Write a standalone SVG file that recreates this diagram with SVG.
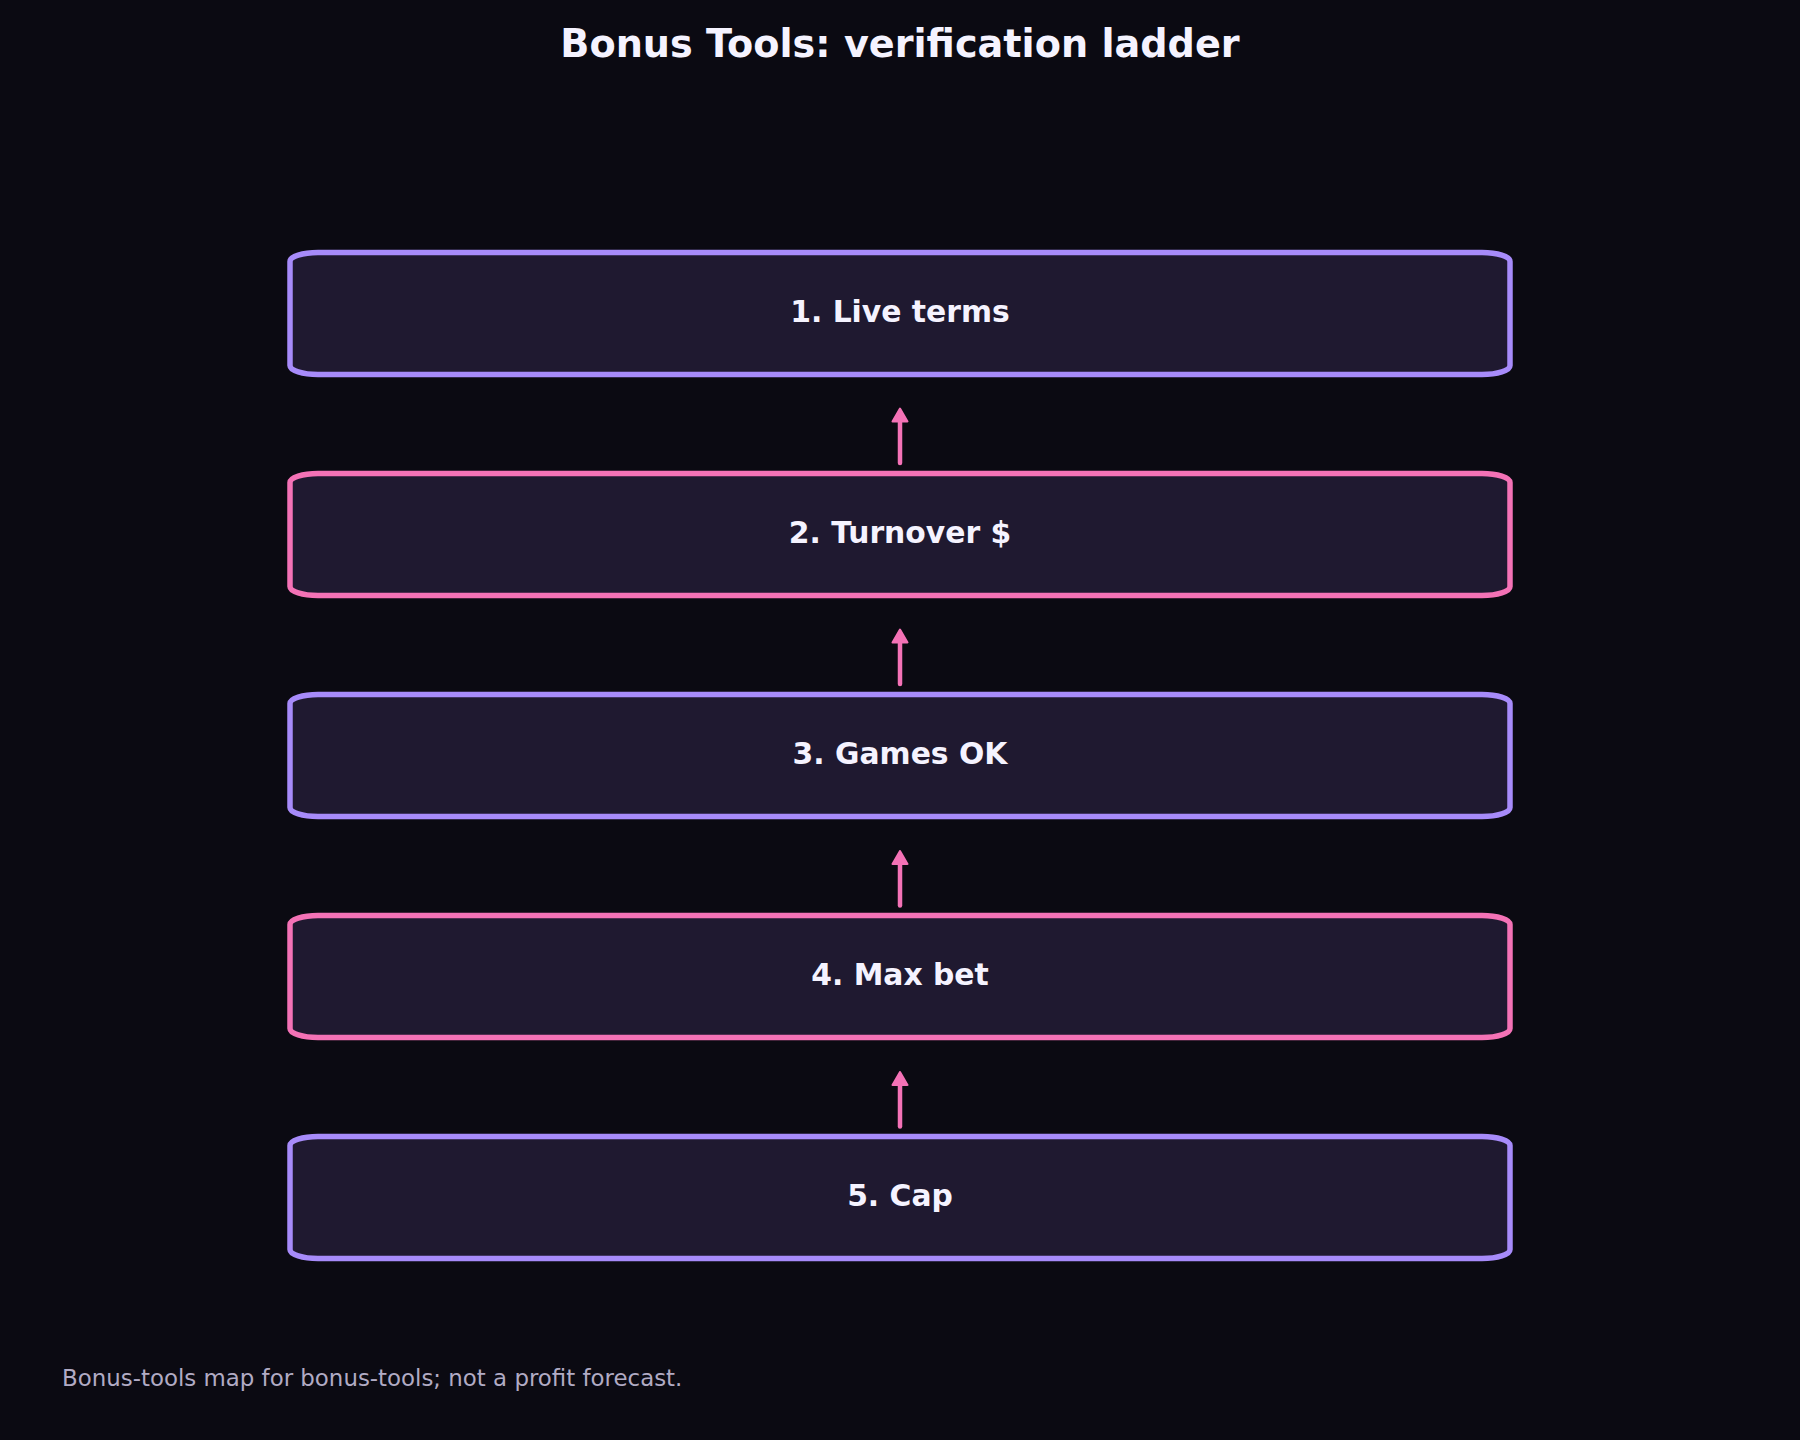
<svg xmlns="http://www.w3.org/2000/svg" width="1800" height="1440" viewBox="0 0 1800 1440">
  <style>
    .bg { fill: #0b0a12; }
    .title { font-family: "DejaVu Sans", "Liberation Sans", sans-serif; font-weight: bold; font-size: 38.2px; fill: #f5f3ff; text-anchor: middle; }
    .box { fill: #1f1930; stroke-width: 5.5; }
    .violet { stroke: #a78bfa; }
    .pink { stroke: #f472b6; }
    .label { font-family: "DejaVu Sans", "Liberation Sans", sans-serif; font-weight: bold; font-size: 29.8px; fill: #f5f3ff; text-anchor: middle; }
    .conn { stroke: #f472b6; stroke-width: 4.5; stroke-linecap: round; fill: none; }
    .foot { font-family: "DejaVu Sans", "Liberation Sans", sans-serif; font-size: 22.9px; fill: #b1abc4; }
  </style>
  <defs>
    <marker id="arrow" viewBox="0 0 16 18" refX="4" refY="9" markerWidth="16" markerHeight="18" markerUnits="userSpaceOnUse" orient="auto">
      <path d="M1.5 1.5 L14.5 9 L1.5 16.5 Z" fill="#f472b6" stroke="#f472b6" stroke-width="2" stroke-linejoin="round"/>
    </marker>
  </defs>
  <rect class="bg" x="0" y="0" width="1800" height="1440"/>
  <text class="title" x="900" y="57">Bonus Tools: verification ladder</text>

  <g id="connectors">
    <line class="conn" x1="900" y1="463" x2="900" y2="419" marker-end="url(#arrow)"/>
    <line class="conn" x1="900" y1="684" x2="900" y2="640" marker-end="url(#arrow)"/>
    <line class="conn" x1="900" y1="905.5" x2="900" y2="861.5" marker-end="url(#arrow)"/>
    <line class="conn" x1="900" y1="1126.5" x2="900" y2="1082.5" marker-end="url(#arrow)"/>
  </g>

  <g id="node1">
    <rect class="box violet" x="290" y="252.5" width="1220" height="122" rx="28" ry="9"/>
    <text class="label" x="900" y="322">1. Live terms</text>
  </g>
  <g id="node2">
    <rect class="box pink" x="290" y="473.5" width="1220" height="122" rx="28" ry="9"/>
    <text class="label" x="900" y="543">2. Turnover $</text>
  </g>
  <g id="node3">
    <rect class="box violet" x="290" y="694.5" width="1220" height="122" rx="28" ry="9"/>
    <text class="label" x="900" y="764">3. Games OK</text>
  </g>
  <g id="node4">
    <rect class="box pink" x="290" y="915.5" width="1220" height="122" rx="28" ry="9"/>
    <text class="label" x="900" y="985">4. Max bet</text>
  </g>
  <g id="node5">
    <rect class="box violet" x="290" y="1136.5" width="1220" height="122" rx="28" ry="9"/>
    <text class="label" x="900" y="1206">5. Cap</text>
  </g>

  <text class="foot" x="62" y="1386">Bonus-tools map for bonus-tools; not a profit forecast.</text>
</svg>
